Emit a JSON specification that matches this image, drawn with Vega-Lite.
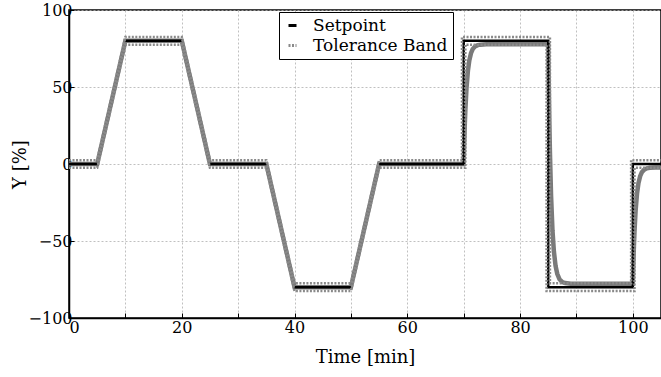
{
  "$schema": "https://vega.github.io/schema/vega-lite/v6.json",
  "autosize": "none",
  "width": 592,
  "height": 308,
  "padding": {"left": 69, "top": 10, "right": 0, "bottom": 59},
  "background": "white",
  "config": {
    "view": {"stroke": "black", "strokeWidth": 1.5},
    "font": "DejaVu Serif",
    "axis": {
      "labelFont": "DejaVu Serif",
      "titleFont": "DejaVu Serif",
      "labelFontSize": 16,
      "titleFontSize": 18,
      "titleFontWeight": "normal",
      "labelColor": "black",
      "titleColor": "black",
      "domainColor": "black",
      "domainWidth": 1.5,
      "tickColor": "black",
      "tickWidth": 1,
      "tickSize": -5,
      "gridColor": "#b0b0b0",
      "gridDash": [2, 2],
      "gridWidth": 0.8
    },
    "legend": {
      "labelFont": "DejaVu Serif",
      "labelFontSize": 17,
      "labelColor": "black",
      "symbolType": "stroke",
      "symbolSize": 64,
      "symbolStrokeWidth": 3,
      "rowPadding": 2,
      "labelOffset": 12,
      "padding": 5,
      "strokeColor": "black",
      "fillColor": "white"
    }
  },
  "datasets": {
    "sp": [
      {"t": 0, "y": 0, "series": "Setpoint", "seg": 1},
      {"t": 5, "y": 0, "series": "Setpoint", "seg": 1},
      {"t": 10, "y": 80, "series": "Setpoint", "seg": 2},
      {"t": 20, "y": 80, "series": "Setpoint", "seg": 2},
      {"t": 25, "y": 0, "series": "Setpoint", "seg": 3},
      {"t": 35, "y": 0, "series": "Setpoint", "seg": 3},
      {"t": 40, "y": -80, "series": "Setpoint", "seg": 4},
      {"t": 50, "y": -80, "series": "Setpoint", "seg": 4},
      {"t": 55, "y": 0, "series": "Setpoint", "seg": 5},
      {"t": 70, "y": 0, "series": "Setpoint", "seg": 5},
      {"t": 70, "y": 80, "series": "Setpoint", "seg": 5},
      {"t": 85, "y": 80, "series": "Setpoint", "seg": 5},
      {"t": 85, "y": -80, "series": "Setpoint", "seg": 5},
      {"t": 100, "y": -80, "series": "Setpoint", "seg": 5},
      {"t": 100, "y": 0, "series": "Setpoint", "seg": 5},
      {"t": 105, "y": 0, "series": "Setpoint", "seg": 5}
    ],
    "band": [
      {"t": 0, "y": 2.5, "series": "Tolerance Band", "side": "upper"},
      {"t": 5, "y": 2.5, "series": "Tolerance Band", "side": "upper"},
      {"t": 10, "y": 82.5, "series": "Tolerance Band", "side": "upper"},
      {"t": 20, "y": 82.5, "series": "Tolerance Band", "side": "upper"},
      {"t": 25, "y": 2.5, "series": "Tolerance Band", "side": "upper"},
      {"t": 35, "y": 2.5, "series": "Tolerance Band", "side": "upper"},
      {"t": 40, "y": -77.5, "series": "Tolerance Band", "side": "upper"},
      {"t": 50, "y": -77.5, "series": "Tolerance Band", "side": "upper"},
      {"t": 55, "y": 2.5, "series": "Tolerance Band", "side": "upper"},
      {"t": 69.7, "y": 2.5, "series": "Tolerance Band", "side": "upper"},
      {"t": 69.7, "y": 82.5, "series": "Tolerance Band", "side": "upper"},
      {"t": 85.3, "y": 82.5, "series": "Tolerance Band", "side": "upper"},
      {"t": 85.3, "y": -77.5, "series": "Tolerance Band", "side": "upper"},
      {"t": 99.7, "y": -77.5, "series": "Tolerance Band", "side": "upper"},
      {"t": 99.7, "y": 2.5, "series": "Tolerance Band", "side": "upper"},
      {"t": 105, "y": 2.5, "series": "Tolerance Band", "side": "upper"},
      {"t": 0, "y": -2.5, "series": "Tolerance Band", "side": "lower"},
      {"t": 5, "y": -2.5, "series": "Tolerance Band", "side": "lower"},
      {"t": 10, "y": 77.5, "series": "Tolerance Band", "side": "lower"},
      {"t": 20, "y": 77.5, "series": "Tolerance Band", "side": "lower"},
      {"t": 25, "y": -2.5, "series": "Tolerance Band", "side": "lower"},
      {"t": 35, "y": -2.5, "series": "Tolerance Band", "side": "lower"},
      {"t": 40, "y": -82.5, "series": "Tolerance Band", "side": "lower"},
      {"t": 50, "y": -82.5, "series": "Tolerance Band", "side": "lower"},
      {"t": 55, "y": -2.5, "series": "Tolerance Band", "side": "lower"},
      {"t": 70.3, "y": -2.5, "series": "Tolerance Band", "side": "lower"},
      {"t": 70.3, "y": 77.5, "series": "Tolerance Band", "side": "lower"},
      {"t": 84.7, "y": 77.5, "series": "Tolerance Band", "side": "lower"},
      {"t": 84.7, "y": -82.5, "series": "Tolerance Band", "side": "lower"},
      {"t": 100.3, "y": -82.5, "series": "Tolerance Band", "side": "lower"},
      {"t": 100.3, "y": -2.5, "series": "Tolerance Band", "side": "lower"},
      {"t": 105, "y": -2.5, "series": "Tolerance Band", "side": "lower"}
    ],
    "resp": [
      {"t": 0, "y": 0}, {"t": 5, "y": 0}, {"t": 10, "y": 80}, {"t": 20, "y": 80},
      {"t": 25, "y": 0}, {"t": 35, "y": 0}, {"t": 40, "y": -80}, {"t": 50, "y": -80},
      {"t": 55, "y": 0}, {"t": 70, "y": 0},
      {"t": 70.1, "y": 14.1}, {"t": 70.2, "y": 25.6}, {"t": 70.3, "y": 35.1},
      {"t": 70.5, "y": 49.1}, {"t": 70.75, "y": 60.4}, {"t": 71, "y": 67.2},
      {"t": 71.3, "y": 71.9}, {"t": 71.6, "y": 74.6}, {"t": 72, "y": 76.3},
      {"t": 72.5, "y": 77.2}, {"t": 73, "y": 77.5}, {"t": 74, "y": 77.7},
      {"t": 85, "y": 77.7},
      {"t": 85.1, "y": 49.5}, {"t": 85.2, "y": 26.4}, {"t": 85.3, "y": 7.6},
      {"t": 85.5, "y": -20.5}, {"t": 85.75, "y": -43.0}, {"t": 86, "y": -56.7},
      {"t": 86.3, "y": -66.2}, {"t": 86.6, "y": -71.3}, {"t": 87, "y": -74.9},
      {"t": 87.5, "y": -76.7}, {"t": 88, "y": -77.3}, {"t": 89, "y": -77.7},
      {"t": 100, "y": -77.7},
      {"t": 100.1, "y": -64.1}, {"t": 100.2, "y": -52.9}, {"t": 100.3, "y": -43.7},
      {"t": 100.5, "y": -30.0}, {"t": 100.75, "y": -19.1}, {"t": 101, "y": -12.5},
      {"t": 101.3, "y": -7.9}, {"t": 101.6, "y": -5.4}, {"t": 102, "y": -3.7},
      {"t": 102.5, "y": -2.8}, {"t": 103, "y": -2.5}, {"t": 104, "y": -2.3},
      {"t": 105, "y": -2.3}
    ]
  },
  "encoding": {
    "x": {
      "field": "t", "type": "quantitative",
      "scale": {"domain": [0, 105], "nice": false, "zero": false},
      "axis": {
        "title": "Time [min]",
        "values": [0, 10, 20, 30, 40, 50, 60, 70, 80, 90, 100],
        "labelExpr": "datum.value % 20 === 0 ? datum.label : ''",
        "labelPadding": 6,
        "titlePadding": 13
      }
    },
    "y": {
      "field": "y", "type": "quantitative",
      "scale": {"domain": [-100, 100], "nice": false},
      "axis": {
        "title": "Y [%]",
        "values": [-100, -50, 0, 50, 100],
        "labelPadding": 2,
        "titleX": -40,
        "titleY": 154
      }
    }
  },
  "layer": [
    {
      "data": {"name": "resp"},
      "mark": {"type": "line", "color": "#7a7a7a", "strokeWidth": 4.5, "clip": true},
      "encoding": {"order": {"value": null}}
    },
    {
      "data": {"name": "sp"},
      "mark": {"type": "line", "strokeWidth": 2.5, "clip": true},
      "encoding": {
        "order": {"value": null},
        "detail": {"field": "seg"},
        "color": {
          "field": "series", "type": "nominal",
          "scale": {"domain": ["Setpoint", "Tolerance Band"], "range": ["#000000", "#8a8a8a"]},
          "legend": {"orient": "none", "legendX": 210, "legendY": 2, "title": null}
        },
        "strokeDash": {
          "field": "series", "type": "nominal",
          "scale": {"domain": ["Setpoint", "Tolerance Band"], "range": [[1, 0], [2, 1.5]]},
          "legend": {"orient": "none", "legendX": 210, "legendY": 2, "title": null}
        }
      }
    },
    {
      "data": {"name": "band"},
      "mark": {"type": "line", "strokeWidth": 2.5, "clip": true},
      "encoding": {
        "order": {"value": null},
        "detail": {"field": "side"},
        "color": {"field": "series", "type": "nominal"},
        "strokeDash": {"field": "series", "type": "nominal"}
      }
    }
  ]
}
